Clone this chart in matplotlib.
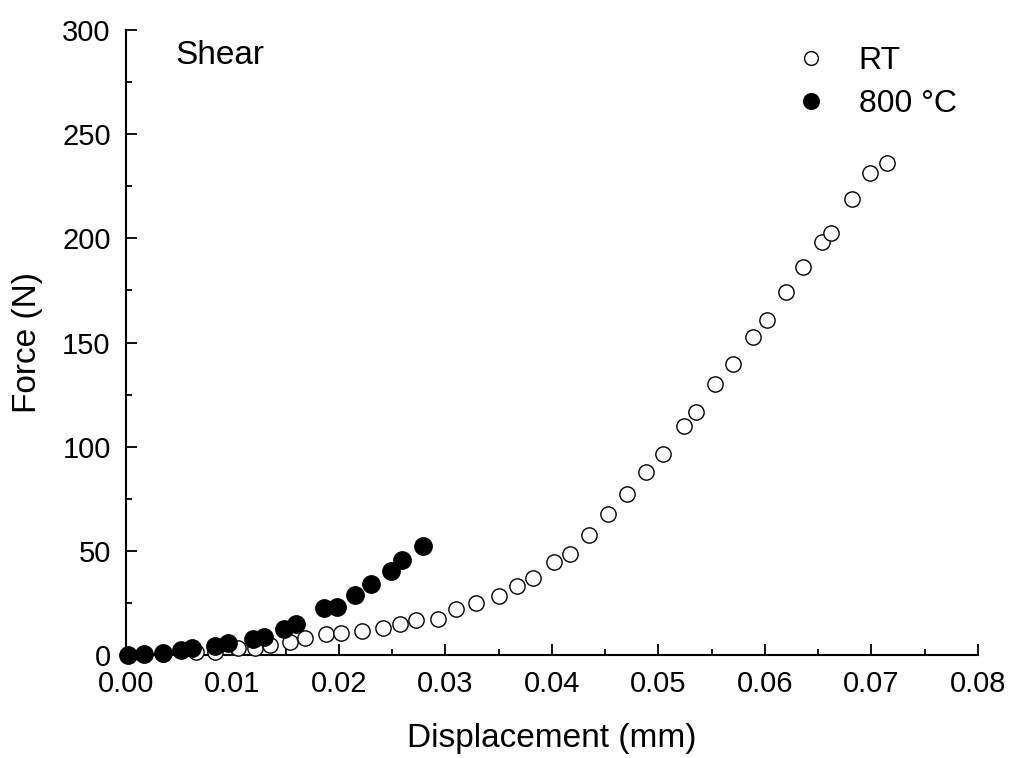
import numpy as np
import matplotlib.pyplot as plt
from matplotlib.ticker import MultipleLocator

plt.rcParams['font.family'] = ['Liberation Sans', 'DejaVu Sans']

# Shear test, room temperature
dispRT = [0.0017, 0.0035, 0.0066, 0.0084, 0.0105, 0.0121, 0.0135, 0.0154, 0.0168,
          0.0188, 0.0202, 0.0222, 0.0241, 0.0257, 0.0272, 0.0293, 0.0310, 0.0329,
          0.0350, 0.0367, 0.0382, 0.0402, 0.0417, 0.0435, 0.0453, 0.0470, 0.0488,
          0.0504, 0.0524, 0.0535, 0.0553, 0.0570, 0.0589, 0.0602, 0.0620, 0.0636,
          0.0654, 0.0662, 0.0682, 0.0699, 0.0715]
forceRT = [0.3, 0.5, 1.6, 1.6, 3.5, 3.5, 4.8, 6.4, 8.0,
           10.1, 10.4, 11.5, 13.1, 14.7, 16.8, 17.1, 22.1, 25.1,
           28.5, 33.0, 37.0, 44.5, 48.5, 57.4, 67.8, 77.4, 87.8,
           96.3, 110.0, 116.6, 130.1, 139.7, 152.8, 160.8, 174.4, 186.2,
           198.2, 202.4, 218.9, 231.2, 236.0]

# Shear test, 800 °C
disp800 = [0.0002, 0.0017, 0.0035, 0.0052, 0.0062, 0.0084, 0.0096, 0.0119, 0.0130,
           0.0148, 0.0160, 0.0186, 0.0198, 0.0215, 0.0230, 0.0249, 0.0259, 0.0279]
force800 = [0.0, 0.3, 0.8, 2.4, 3.2, 4.3, 5.6, 7.5, 8.8,
            12.5, 14.9, 22.4, 23.2, 28.7, 33.9, 40.3, 45.6, 52.5]

fig = plt.figure(figsize=(10.11, 7.58), dpi=100)
ax = fig.add_axes([0.1246, 0.1359, 0.8427, 0.8245])

ax.plot(dispRT, forceRT, 'o', mfc='white', mec='black', mew=1.0, ms=11,
        label='RT', clip_on=False, zorder=3)
ax.plot(disp800, force800, 'o', mfc='black', mec='black', ms=12.5,
        label='800 \u00b0C', clip_on=False, zorder=4)

ax.set_xlim(0, 0.08)
ax.set_ylim(0, 300)
ax.xaxis.set_major_locator(MultipleLocator(0.01))
ax.xaxis.set_minor_locator(MultipleLocator(0.005))
ax.yaxis.set_major_locator(MultipleLocator(50))
ax.yaxis.set_minor_locator(MultipleLocator(25))
ax.xaxis.set_major_formatter(lambda v, p: f"{v:.2f}")

for s in ['top', 'right']:
    ax.spines[s].set_visible(False)
for s in ['left', 'bottom']:
    ax.spines[s].set_linewidth(1.5)

ax.tick_params(which='major', direction='in', length=8, width=1.3, labelsize=21)
ax.tick_params(axis='x', which='major', pad=10.5)
ax.tick_params(axis='y', which='major', pad=11)
ax.tick_params(which='minor', direction='in', length=4.5, width=1.3)

ax.set_xlabel("Displacement (mm)", fontsize=24, labelpad=18)
ax.set_ylabel("Force (N)", fontsize=24, labelpad=14)

ax.text(0.0575, 0.96, "Shear", transform=ax.transAxes, fontsize=24,
        va='center', ha='left')

ax.legend(loc='upper left', bbox_to_anchor=(0.755, 1.01), frameon=False,
          fontsize=23, markerscale=0.9, handletextpad=0.9, labelspacing=0.4,
          borderpad=0.2, handlelength=1.2)

fig.savefig("out.png", dpi=100)
